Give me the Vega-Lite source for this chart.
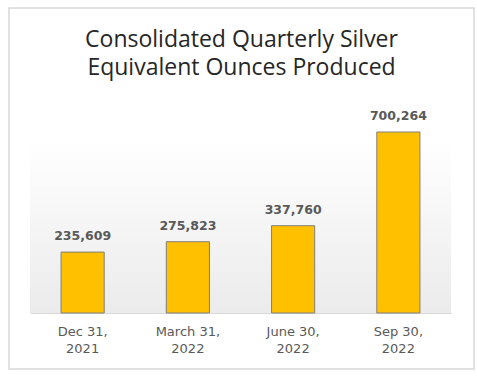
{
  "$schema": "https://vega.github.io/schema/vega-lite/v6.json",
  "width": 465,
  "height": 361,
  "autosize": {"type": "none"},
  "padding": {"left": 9, "top": 8, "right": 3, "bottom": 16},
  "background": "white",
  "config": {"view": {"stroke": "#d9d9d9", "strokeWidth": 1.5, "fill": "white"}},
  "title": {
    "text": ["Consolidated Quarterly Silver", "Equivalent Ounces Produced"],
    "font": "Open Sans",
    "fontSize": 23,
    "fontWeight": "normal",
    "color": "#262626",
    "lineHeight": 28,
    "anchor": "middle",
    "offset": -72
  },
  "data": {
    "values": [
      {"date": "Dec 31, 2021", "ounces": 235609},
      {"date": "March 31, 2022", "ounces": 275823},
      {"date": "June 30, 2022", "ounces": 337760},
      {"date": "Sep 30, 2022", "ounces": 700264}
    ]
  },
  "layer": [
    {
      "data": {"values": [{"region": "plot area"}]},
      "mark": {
        "type": "rect",
        "color": {
          "gradient": "linear",
          "x1": 0, "y1": 0, "x2": 0, "y2": 1,
          "stops": [
            {"offset": 0, "color": "#ffffff"},
            {"offset": 1, "color": "#ebebeb"}
          ]
        }
      },
      "encoding": {
        "x": {"datum": 0, "type": "quantitative", "scale": {"domain": [0, 1], "range": [21, 442]}, "axis": null},
        "x2": {"datum": 1},
        "y": {"datum": 0, "type": "quantitative", "scale": {"domain": [0, 700264], "range": [305, 124]}, "axis": null},
        "y2": {"datum": 665000}
      }
    },
    {
      "mark": {"type": "bar", "fill": "#FFC000", "stroke": "#7f7f7f", "strokeWidth": 1},
      "encoding": {
        "x": {
          "field": "date", "type": "ordinal", "sort": null,
          "scale": {"range": [21, 442], "paddingInner": 0.59, "paddingOuter": 0.295},
          "axis": {
            "title": null,
            "orient": "bottom",
            "offset": -56,
            "domainColor": "#d9d9d9",
            "domainWidth": 1,
            "ticks": false,
            "labelAngle": 0,
            "labelFont": "DejaVu Sans",
            "labelFontSize": 13,
            "labelColor": "#595959",
            "labelPadding": 12,
            "labelLineHeight": 17,
            "labelExpr": "[slice(datum.label, 0, indexof(datum.label, ',') + 1), trim(slice(datum.label, indexof(datum.label, ',') + 1))]"
          }
        },
        "y": {"field": "ounces", "type": "quantitative", "scale": {"domain": [0, 700264], "range": [305, 124]}, "axis": null}
      }
    },
    {
      "mark": {"type": "text", "font": "DejaVu Sans", "fontWeight": "bold", "fontSize": 12.5, "color": "#595959", "baseline": "alphabetic", "dy": -12},
      "encoding": {
        "x": {"field": "date", "type": "ordinal", "sort": null, "scale": {"range": [21, 442], "paddingInner": 0.59, "paddingOuter": 0.295}, "axis": null},
        "y": {"field": "ounces", "type": "quantitative", "scale": {"domain": [0, 700264], "range": [305, 124]}, "axis": null},
        "text": {"field": "ounces", "type": "quantitative", "format": ","}
      }
    }
  ],
  "resolve": {"scale": {"x": "independent"}}
}
